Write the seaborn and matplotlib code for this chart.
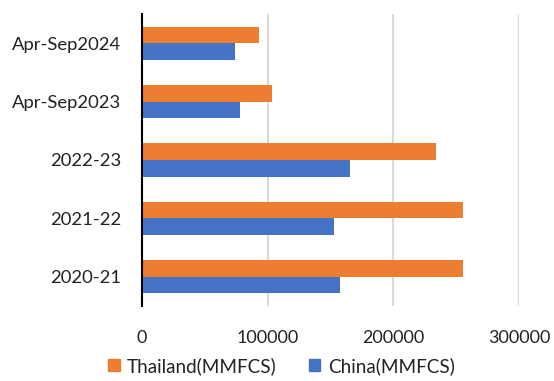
import matplotlib
matplotlib.use("Agg")
import matplotlib.pyplot as plt
import seaborn as sns
import pandas as pd
import numpy as np

categories = ["Apr-Sep2024", "Apr-Sep2023", "2022-23", "2021-22", "2020-21"]
thailand = [93000, 103800, 234000, 255300, 255300]
china = [73800, 77700, 165900, 153100, 157900]
series = ["Thailand(MMFCS)", "China(MMFCS)"]
colors = ["#ED7D31", "#4472C4"]
xticks = [0, 100000, 200000, 300000]

df = pd.DataFrame({
    "cat": categories * 2,
    "val": thailand + china,
    "series": [series[0]] * len(categories) + [series[1]] * len(categories),
})

sns.set_style("white")
plt.rcParams["font.family"] = ["Lato", "DejaVu Sans"]

fig = plt.figure(figsize=(5.54, 3.81), dpi=100)
ax = fig.add_axes([142/554, 1-306/381, (519-142)/554, (306-14)/381])

sns.barplot(data=df, y="cat", x="val", hue="series", order=categories,
            hue_order=series, palette=colors, orient="h", width=0.57,
            saturation=1, ax=ax, legend=True, linewidth=0)

ax.set_xlim(0, 300000)
ax.set_ylim(4.5, -0.5)
ax.set_xticks(xticks)
ax.set_xticklabels([str(v) for v in xticks])
ax.xaxis.grid(True, color="#D9D9D9", linewidth=1.5)
ax.set_axisbelow(True)
ax.set_xlabel("")
ax.set_ylabel("")
for s in ["top", "right", "bottom"]:
    ax.spines[s].set_visible(False)
ax.spines["left"].set_color("black")
ax.spines["left"].set_linewidth(1.5)

ax.tick_params(axis="x", length=0, labelsize=13, pad=17, colors="#222222")
ax.tick_params(axis="y", which="major", length=0, labelsize=13.3, pad=15, colors="#222222")
ax.set_yticks(np.arange(-0.5, 5, 1), minor=True)
ax.tick_params(axis="y", which="minor", direction="in", length=5, width=1.5, color="black")

leg = ax.get_legend()
if leg is not None:
    leg.remove()
handles = [plt.Rectangle((0, 0), 1, 1, color=c) for c in colors]
fig.legend(handles, series, loc="center", bbox_to_anchor=(0.508, 1-366/381),
           ncol=2, frameon=False, fontsize=13.6, handlelength=0.6, handleheight=0.6,
           handletextpad=0.4, columnspacing=1.7, labelcolor="#222222")

fig.savefig("out.png", dpi=100)
